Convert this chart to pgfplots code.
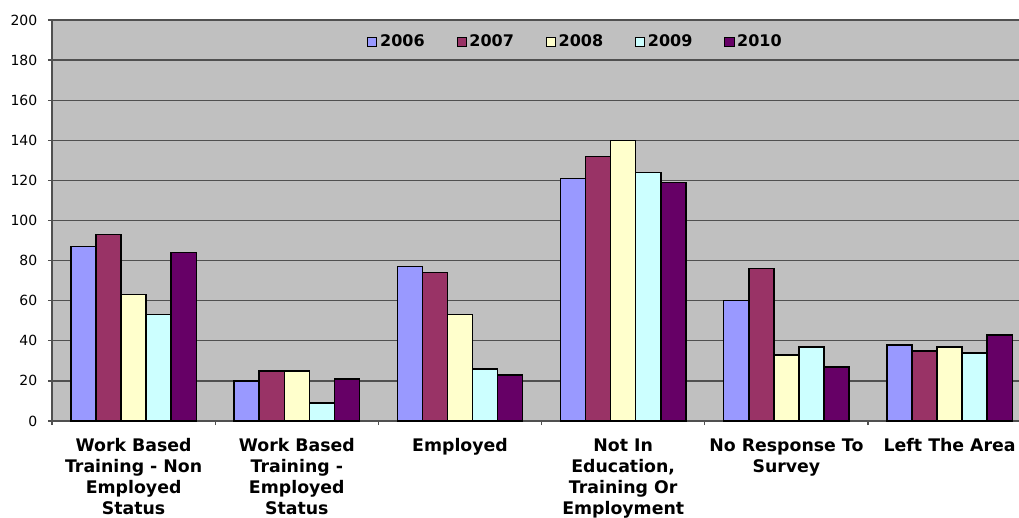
\documentclass[border=0pt]{standalone}
\usepackage{fontspec}
\setmainfont{DejaVu Sans}
\usepackage{pgfplots}
\pgfplotsset{compat=1.18}
\definecolor{cA}{HTML}{9999FF}
\definecolor{cB}{HTML}{993366}
\definecolor{cC}{HTML}{FFFFCC}
\definecolor{cD}{HTML}{CCFFFF}
\definecolor{cE}{HTML}{660066}
\definecolor{plotgray}{HTML}{C0C0C0}
\definecolor{gridc}{HTML}{505050}
\begin{document}
\begin{tikzpicture}
\clip (-39pt,-72pt) rectangle (725.25pt,315.75pt);
\begin{axis}[
  at={(0,0)}, anchor=south west,
  scale only axis, width=734.4pt, height=300.75pt,
  xmin=0, xmax=6, ymin=0, ymax=200,
  ybar=0pt, bar width=0.1536,
  axis background/.style={fill=plotgray},
  axis x line*=bottom, axis y line*=left,
  axis line style={draw=gridc, line width=0.9pt},
  ytick={0,20,...,200},
  ymajorgrids, grid style={draw=gridc, line width=0.9pt},
  tick align=outside,
  major tick length=3pt, minor tick length=3pt,
  xtick={0.5,1.5,2.5,3.5,4.5,5.5},
  minor xtick={0,1,2,3,4,5,6},
  major x tick style={draw=none},
  minor x tick style={draw=gridc, line width=0.9pt},
  y tick style={draw=gridc, line width=0.9pt},
  xticklabels={{Work Based\\Training - Non\\Employed\\Status},{Work Based\\Training -\\Employed\\Status},{Employed},{Not In\\Education,\\Training Or\\Employment},{No Response To\\Survey},{Left The Area}},
  xticklabel style={align=center, yshift=-6.5pt, font=\bfseries\fontsize{13}{15.75}\selectfont},
  yticklabel style={xshift=-4.5pt, font=\fontsize{10.5}{12}\selectfont},
  /pgf/number format/assume math mode=true,
  legend image code/.code={\draw[#1,draw=black,line width=0.75pt] (0pt,-3.4pt) rectangle (6.8pt,3.4pt);},
  legend style={at={(axis cs:3.21,189)}, anchor=center, draw=none, fill=none,
    font=\bfseries\fontsize{12}{14}\selectfont, legend columns=5,
    /tikz/every even column/.append style={column sep=22pt}},
  every axis plot/.append style={draw=black, line width=1.1pt},
]
\addplot[fill=cA] coordinates {(0.5,87) (1.5,20) (2.5,77) (3.5,121) (4.5,60) (5.5,38)};
\addplot[fill=cB] coordinates {(0.5,93) (1.5,25) (2.5,74) (3.5,132) (4.5,76) (5.5,35)};
\addplot[fill=cC] coordinates {(0.5,63) (1.5,25) (2.5,53) (3.5,140) (4.5,33) (5.5,37)};
\addplot[fill=cD] coordinates {(0.5,53) (1.5,9) (2.5,26) (3.5,124) (4.5,37) (5.5,34)};
\addplot[fill=cE] coordinates {(0.5,84) (1.5,21) (2.5,23) (3.5,119) (4.5,27) (5.5,43)};
\legend{2006,2007,2008,2009,2010}
\end{axis}
\end{tikzpicture}
\end{document}
